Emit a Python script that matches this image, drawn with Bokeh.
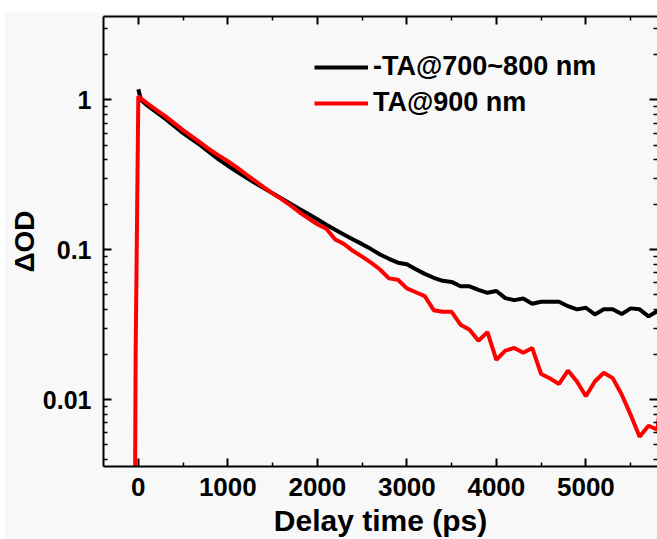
from bokeh.plotting import figure
from bokeh.models import (LinearAxis, LogAxis, FixedTicker, Legend, LegendItem, Spacer)
from bokeh.layouts import column, row
from bokeh.embed import file_html
from bokeh.resources import INLINE

# ---- data ----
black_t = [0, 30, 100, 200, 300, 400, 500, 600, 700, 800, 900, 1000, 1100, 1200, 1300,
           1400, 1500, 1600, 1700, 1800, 1900, 2000, 2100, 2200, 2300, 2400, 2500, 2600,
           2700, 2800, 2900, 3000, 3100, 3200, 3300, 3400, 3500, 3600, 3700, 3800, 3900,
           4000, 4100, 4200, 4300, 4400, 4500, 4600, 4700, 4800, 4900, 5000, 5100, 5200,
           5300, 5400, 5500, 5600, 5700, 5800, 5900]
black_v = [1.18, 1.00, 0.92, 0.83, 0.75, 0.67, 0.60, 0.545, 0.495, 0.445, 0.40, 0.364,
           0.333, 0.305, 0.28, 0.258, 0.238, 0.22, 0.203, 0.187, 0.173, 0.160, 0.147,
           0.136, 0.126, 0.117, 0.109, 0.101, 0.093, 0.087, 0.082, 0.080, 0.074, 0.069,
           0.065, 0.062, 0.061, 0.057, 0.057, 0.054, 0.0516, 0.053, 0.0475, 0.0461,
           0.0473, 0.0436, 0.045, 0.045, 0.045, 0.042, 0.040, 0.041, 0.037, 0.040, 0.040,
           0.0372, 0.0406, 0.040, 0.0359, 0.039, 0.040]

red_t = [-40, -30, 0, 30, 100, 200, 300, 400, 500, 600, 700, 800, 900, 1000, 1100, 1200,
         1300, 1400, 1500, 1600, 1700, 1800, 1900, 2000, 2100, 2200, 2300, 2400, 2500,
         2600, 2700, 2800, 2900, 3000, 3100, 3200, 3300, 3400, 3500, 3600, 3700, 3800,
         3900, 4000, 4100, 4200, 4300, 4400, 4500, 4600, 4700, 4800, 4900, 5000, 5100,
         5200, 5300, 5400, 5500, 5600, 5700, 5800, 5850]
red_v = [0.0008, 0.02, 1.06, 1.02, 0.95, 0.86, 0.78, 0.70, 0.63, 0.57, 0.515, 0.465,
         0.425, 0.39, 0.355, 0.32, 0.29, 0.262, 0.238, 0.218, 0.198, 0.178, 0.162, 0.148,
         0.138, 0.117, 0.109, 0.098, 0.090, 0.082, 0.0738, 0.0644, 0.063, 0.0552, 0.052,
         0.049, 0.0395, 0.0385, 0.0385, 0.0316, 0.0292, 0.0247, 0.0282, 0.0184, 0.0212,
         0.0221, 0.0205, 0.0221, 0.0148, 0.0138, 0.0127, 0.0156, 0.0132, 0.0105, 0.0132,
         0.0151, 0.0139, 0.0108, 0.0079, 0.00565, 0.00668, 0.0063, 0.012]

legend_labels = ["-TA@700~800 nm", "TA@900 nm"]
series_colors = ["#000000", "#ff0000"]

y_ticks = [0.01, 0.1, 1]
y_tick_labels = ["0.01", "0.1", "1"]
y_minor = [0.004, 0.005, 0.006, 0.007, 0.008, 0.009,
           0.02, 0.03, 0.04, 0.05, 0.06, 0.07, 0.08, 0.09,
           0.2, 0.3, 0.4, 0.5, 0.6, 0.7, 0.8, 0.9, 2, 3]
x_ticks = [0, 1000, 2000, 3000, 4000, 5000]
x_minor = [500, 1500, 2500, 3500, 4500, 5500]

x_title = "Delay time (ps)"
y_title = "\u0394OD"

FONT = "Liberation Sans"
BG = "#f8f8f8"

p = figure(width=653, height=527, y_axis_type="log",
           x_range=(-389, 5800), y_range=(0.00357, 3.61),
           output_backend="svg", toolbar_location=None,
           min_border_left=99, min_border_top=4, min_border_right=0,
           min_border_bottom=0)
p.background_fill_color = BG
p.border_fill_color = BG
p.outline_line_color = None
p.xgrid.visible = False
p.ygrid.visible = False

r_black = p.line(black_t, black_v, line_color=series_colors[0], line_width=4)
r_red = p.line(red_t, red_v, line_color=series_colors[1], line_width=4)

x_ticker = FixedTicker(ticks=x_ticks, minor_ticks=x_minor)
y_ticker = FixedTicker(ticks=y_ticks, minor_ticks=y_minor)


def style_axis(ax):
    ax.axis_line_width = 2
    ax.axis_line_color = "black"
    ax.major_tick_in = 8
    ax.major_tick_out = 0
    ax.minor_tick_in = 4
    ax.minor_tick_out = 0
    ax.major_tick_line_width = 2
    ax.minor_tick_line_width = 1.5
    ax.major_tick_line_color = "black"
    ax.minor_tick_line_color = "black"
    ax.major_label_text_font = FONT
    ax.major_label_text_font_style = "bold"
    ax.major_label_text_font_size = "25px"
    ax.major_label_text_color = "black"
    ax.axis_label_text_font = FONT
    ax.axis_label_text_font_style = "bold"
    ax.axis_label_text_color = "black"


xa = p.xaxis[0]
xa.ticker = x_ticker
style_axis(xa)
xa.major_label_text_font_size = "26px"
xa.major_label_standoff = 11
xa.axis_label = x_title
xa.axis_label_text_font_size = "30px"
xa.axis_label_standoff = 5

ya = p.yaxis[0]
ya.ticker = y_ticker
style_axis(ya)
ya.major_label_overrides = {t: s for t, s in zip(y_ticks, y_tick_labels)}
ya.major_label_standoff = 12
ya.axis_label = y_title
ya.axis_label_text_font_size = "28px"
ya.axis_label_standoff = 0

# mirror axes (ticks only, no labels)
top = LinearAxis(ticker=x_ticker)
style_axis(top)
top.major_label_overrides = {t: "" for t in x_ticks}
top.major_label_text_font_size = "1px"
top.major_label_standoff = 0
p.add_layout(top, "above")

right = LogAxis(ticker=y_ticker)
style_axis(right)
right.axis_line_color = None
right.major_label_overrides = {t: "" for t in y_ticks}
right.major_label_text_font_size = "1px"
right.major_label_standoff = 0
p.add_layout(right, "right")

legend = Legend(items=[LegendItem(label=legend_labels[0], renderers=[r_black]),
                       LegendItem(label=legend_labels[1], renderers=[r_red])],
                location=(211, 348))
legend.label_text_font = FONT
legend.label_text_font_style = "bold"
legend.label_text_font_size = "27px"
legend.label_text_color = "black"
legend.glyph_width = 54
legend.glyph_height = 30
legend.label_height = 30
legend.label_standoff = 5
legend.spacing = 5
legend.padding = 0
legend.margin = 0
legend.border_line_color = None
legend.background_fill_alpha = 0
p.add_layout(legend)

layout = column(Spacer(width=657, height=12),
                row(Spacer(width=4, height=527), p))

open("out.html", "w").write(file_html(layout, INLINE))
